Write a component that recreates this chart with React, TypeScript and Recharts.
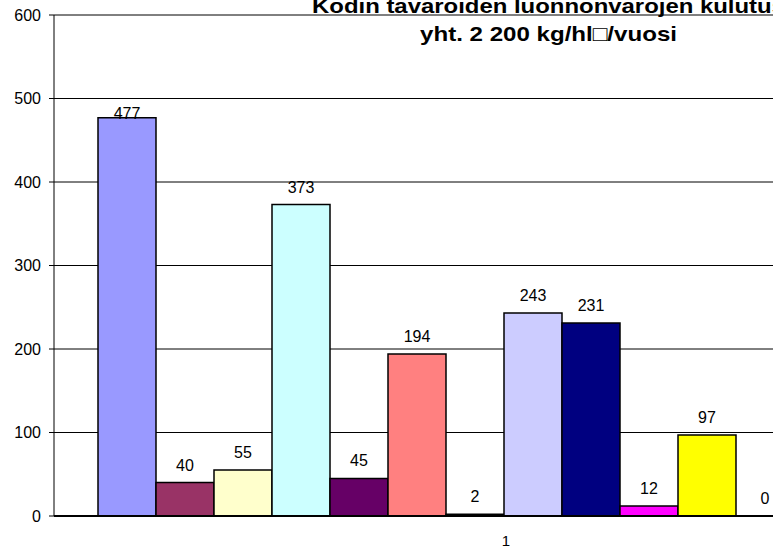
import { Bar, BarChart, CartesianGrid, XAxis, YAxis } from "recharts";

const CATEGORY = "1";
const SERIES_VALUES = [477, 40, 55, 373, 45, 194, 2, 243, 231, 12, 97, 0, 180, 251];
const SERIES_COLORS = [
  "#9999FF",
  "#993366",
  "#FFFFCC",
  "#CCFFFF",
  "#660066",
  "#FF8080",
  "#0066CC",
  "#CCCCFF",
  "#000080",
  "#FF00FF",
  "#FFFF00",
  "#00FFFF",
  "#800080",
  "#800000",
];
const Y_TICKS = [0, 100, 200, 300, 400, 500, 600];
const TITLE_LINES = ["Kodin tavaroiden luonnonvarojen kulutus", "yht. 2 200 kg/hl\u25A1/vuosi"];

const FONT = "'Liberation Sans', Arial, sans-serif";
const keys = SERIES_VALUES.map((_, i) => `s${i + 1}`);
const row: Record<string, string | number> = { name: CATEGORY };
keys.forEach((k, i) => (row[k] = SERIES_VALUES[i]));
const data = [row];

// value label above each bar, kept under the 500 gridline like the original
function ValueLabel(props: any) {
  const { x, y, width, value } = props;
  const ty = Math.max(Number(y) - 12, 119);
  return (
    <text x={Number(x) + Number(width) / 2} y={ty} textAnchor="middle" fontSize={16} fontFamily={FONT} fill="#000">
      {value}
    </text>
  );
}

export default function App() {
  return (
    <div style={{ position: "absolute", left: 0, top: 0, width: 773, height: 547, overflow: "hidden", background: "#fff" }}>
      <BarChart
        width={1000}
        height={547}
        data={data}
        margin={{ top: 15, right: 42, left: 0, bottom: 0 }}
        barCategoryGap={44}
        barGap={0}
      >
        <CartesianGrid vertical={false} stroke="#000" strokeWidth={1} />
        <XAxis
          dataKey="name"
          height={31}
          tickLine={false}
          tickMargin={13}
          axisLine={{ stroke: "#000", strokeWidth: 2 }}
          tick={{ fontSize: 15, fill: "#000", fontFamily: FONT }}
        />
        <YAxis
          width={54}
          domain={[0, 600]}
          ticks={Y_TICKS}
          tickSize={5}
          tickMargin={8}
          axisLine={{ stroke: "#000" }}
          tickLine={{ stroke: "#000" }}
          tick={{ fontSize: 16, fill: "#000", fontFamily: FONT }}
        />
        {keys.map((k, i) => (
          <Bar
            key={k}
            dataKey={k}
            fill={SERIES_COLORS[i]}
            stroke="#000"
            strokeWidth={1.5}
            minPointSize={0.01}
            label={ValueLabel}
            isAnimationActive={false}
          />
        ))}
      </BarChart>
      <svg width={773} height={60} style={{ position: "absolute", left: 0, top: 0 }}>
        <text x={548.5} y={13.3} textAnchor="middle" fontSize={21} fontWeight="bold" fontFamily={FONT} textLength={473} lengthAdjust="spacingAndGlyphs">
          {TITLE_LINES[0]}
        </text>
        <text x={548.5} y={40.7} textAnchor="middle" fontSize={21} fontWeight="bold" fontFamily={FONT} textLength={257} lengthAdjust="spacingAndGlyphs">
          {TITLE_LINES[1]}
        </text>
      </svg>
    </div>
  );
}
